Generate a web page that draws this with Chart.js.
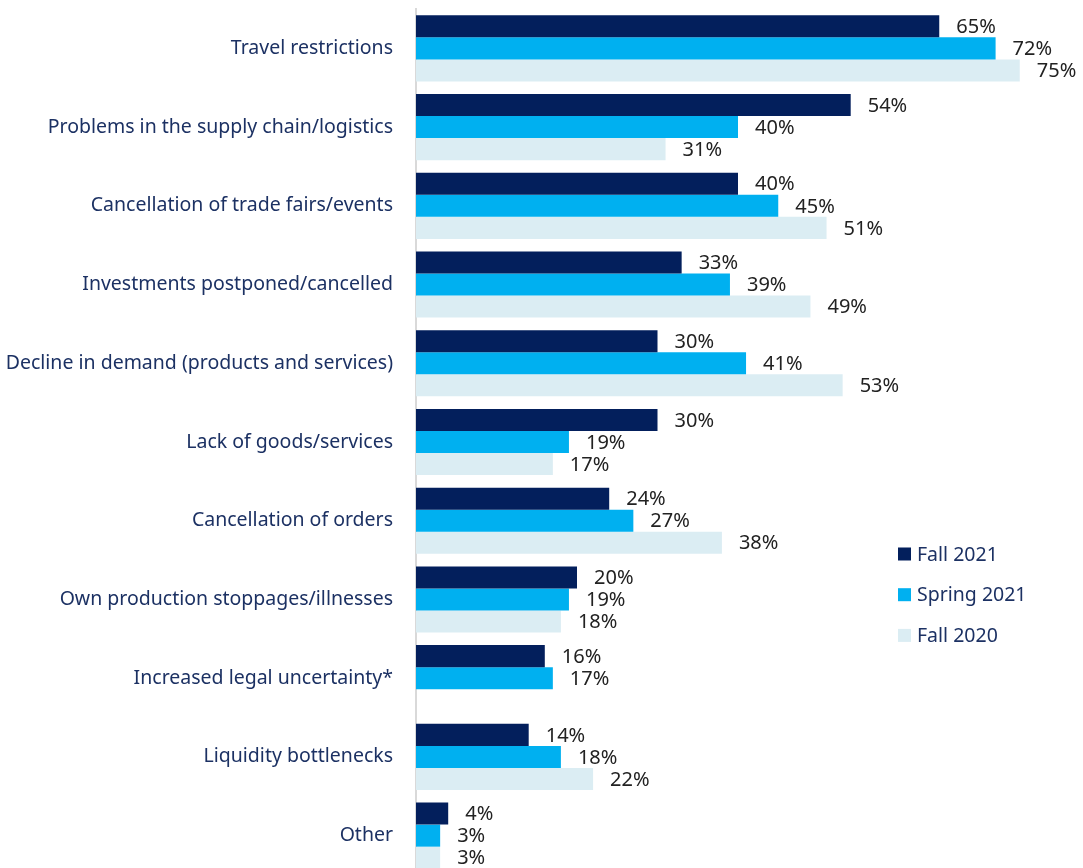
<!DOCTYPE html>
<html>
<head>
<meta charset="utf-8">
<script src="https://cdn.jsdelivr.net/npm/chart.js@4"></script>
<style>
  html, body { margin: 0; padding: 0; background: #fff; overflow: hidden; }
  #wrap { width: 1083px; height: 875px; }
</style>
</head>
<body>
<div id="wrap"><canvas id="myChart" width="1083" height="875"></canvas></div>
<script>
// chart data
var categories = [
  'Travel restrictions',
  'Problems in the supply chain/logistics',
  'Cancellation of trade fairs/events',
  'Investments postponed/cancelled',
  'Decline in demand (products and services)',
  'Lack of goods/services',
  'Cancellation of orders',
  'Own production stoppages/illnesses',
  'Increased legal uncertainty*',
  'Liquidity bottlenecks',
  'Other'
];
var seriesNames = ['Fall 2021', 'Spring 2021', 'Fall 2020'];
var fall2021 = [65, 54, 40, 33, 30, 30, 24, 20, 16, 14, 4];
var spring2021 = [72, 40, 45, 39, 41, 19, 27, 19, 17, 18, 3];
var fall2020 = [75, 31, 51, 49, 53, 17, 38, 18, null, 22, 3];
var seriesColors = ['#031f5c', '#00b0f0', '#dbedf3'];

var labelFont = '19.5px "Noto Sans"';
var textColor = '#1c3163';

// draws the % labels next to bars and the legend at the right
var valueLabels = {
  id: 'valueLabels',
  afterDatasetsDraw(chart) {
    const ctx = chart.ctx;
    ctx.save();
    ctx.font = '20px "Noto Sans"';
    ctx.fillStyle = '#222222';
    ctx.textAlign = 'left';
    ctx.textBaseline = 'middle';
    chart.data.datasets.forEach((ds, i) => {
      const meta = chart.getDatasetMeta(i);
      meta.data.forEach((bar, j) => {
        if (ds.data[j] === null) return;
        ctx.fillText(ds.data[j] + '%', bar.x + 17, bar.y + 1);
      });
    });

    // legend
    ctx.font = labelFont;
    chart.data.datasets.forEach((ds, i) => {
      let y = 554 + i * 40.7;
      ctx.fillStyle = ds.backgroundColor;
      ctx.fillRect(898, y - 6.5, 13, 13);
      ctx.fillStyle = textColor;
      ctx.fillText(ds.label, 917, y + 1);
    });
    ctx.restore();
  }
};

var ctx = document.getElementById('myChart').getContext('2d');
new Chart(ctx, {
  type: 'bar',
  data: {
    labels: categories,
    datasets: [
      { label: seriesNames[0], data: fall2021, backgroundColor: seriesColors[0] },
      { label: seriesNames[1], data: spring2021, backgroundColor: seriesColors[1] },
      { label: seriesNames[2], data: fall2020, backgroundColor: seriesColors[2] }
    ]
  },
  options: {
    indexAxis: 'y',
    responsive: false,
    animation: false,
    layout: { padding: { top: 9, right: 23, bottom: 0, left: 0 } },
    datasets: {
      bar: { categoryPercentage: 0.84, barPercentage: 1.0, borderWidth: 0 }
    },
    plugins: {
      legend: { display: false },
      tooltip: { enabled: false }
    },
    scales: {
      x: {
        display: false,
        min: 0,
        max: 80
      },
      y: {
        afterFit: function(scale) {
          scale.width = 416;
          scale.paddingTop = 0;
          scale.paddingBottom = 0;
        },
        grid: { display: false },
        border: { display: true, color: '#d9d9d9', width: 2 },
        ticks: {
          color: textColor,
          font: { family: 'Noto Sans', size: 19.5 },
          padding: 15
        }
      }
    }
  },
  plugins: [valueLabels]
});
</script>
</body>
</html>
